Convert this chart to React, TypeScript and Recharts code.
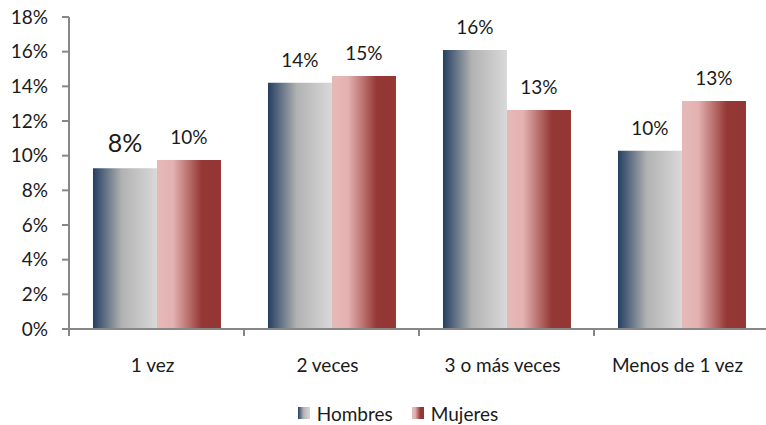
import { BarChart, Bar, XAxis, YAxis, Legend, LabelList } from 'recharts';

const categories = ['1 vez', '2 veces', '3 o más veces', 'Menos de 1 vez'];
const hombres = [9.27, 14.21, 16.1, 10.29];
const mujeres = [9.75, 14.6, 12.64, 13.16];
const hombresLabels = ['8%', '14%', '16%', '10%'];
const mujeresLabels = ['10%', '15%', '13%', '13%'];
const yTicks = [0, 2, 4, 6, 8, 10, 12, 14, 16, 18];

const data = categories.map((name, i) => ({
    name,
    hombres: hombres[i],
    mujeres: mujeres[i],
}));

const FONT = 'Lato, "Open Sans", sans-serif';
const AXIS = '#878787';
const TEXT = '#1a1a1a';

const CategoryTick = ({ x, y, payload, index }: any) => {
    const half = payload?.offset ?? 87.5;
    return (
        <g>
            <line x1={x - half} x2={x - half} y1={y} y2={y + 7} stroke={AXIS} strokeWidth={2} />
            {index === categories.length - 1 && (
                <line x1={x + half} x2={x + half} y1={y} y2={y + 7} stroke={AXIS} strokeWidth={2} />
            )}
            <text x={x - 4} y={y + 43} textAnchor="middle" fill={TEXT} fontSize={19} fontFamily={FONT}>
                {payload.value}
            </text>
        </g>
    );
};

// the first "8%" label is drawn larger in the original
const makeLabel = (labels: string[], bigIndex: number) => (props: any) => {
    const { x, y, width, index } = props;
    return (
        <text
            x={x + width / 2}
            y={y - 16}
            textAnchor="middle"
            fill={TEXT}
            fontSize={index === bigIndex ? 25 : 19}
            fontFamily={FONT}
        >
            {labels[index]}
        </text>
    );
};

const LegendContent = () => (
    <div style={{ height: 24, paddingLeft: 27, display: 'flex', justifyContent: 'center', alignItems: 'center', fontFamily: FONT, fontSize: 19, color: TEXT }}>
        <svg width={12} height={12} style={{ marginRight: 7 }}>
            <rect width={12} height={12} fill="url(#gradHombres)" />
        </svg>
        <span style={{ marginRight: 19 }}>Hombres</span>
        <svg width={12} height={12} style={{ marginRight: 7 }}>
            <rect width={12} height={12} fill="url(#gradMujeres)" />
        </svg>
        <span>Mujeres</span>
    </div>
);

export default function App() {
    return (
        <div style={{ position: 'absolute', left: 0, top: 0, width: 766, height: 425, background: '#fff' }}>
            <BarChart
                width={766}
                height={425}
                data={data}
                margin={{ top: 17, right: -3, left: 0, bottom: 0 }}
                barGap={0}
                barCategoryGap="13.7%"
            >
                <defs>
                    <linearGradient id="gradHombres" x1="0" y1="0" x2="1" y2="0">
                        <stop offset="0%" stopColor="#243f62" />
                        <stop offset="45%" stopColor="#b2b2b2" />
                        <stop offset="100%" stopColor="#d9d9d9" />
                    </linearGradient>
                    <linearGradient id="gradMujeres" x1="0" y1="0" x2="1" y2="0">
                        <stop offset="0%" stopColor="#e6b9b8" />
                        <stop offset="25%" stopColor="#e3b2b1" />
                        <stop offset="70%" stopColor="#953735" />
                        <stop offset="100%" stopColor="#943634" />
                    </linearGradient>
                </defs>
                <XAxis
                    dataKey="name"
                    height={72}
                    axisLine={{ stroke: AXIS, strokeWidth: 2 }}
                    tickLine={false}
                    tickSize={0}
                    tickMargin={0}
                    tick={<CategoryTick />}
                    interval={0}
                />
                <YAxis
                    width={69}
                    domain={[0, 18]}
                    ticks={yTicks}
                    interval={0}
                    tickFormatter={(v: number) => `${v}%`}
                    axisLine={{ stroke: AXIS, strokeWidth: 2 }}
                    tickLine={{ stroke: AXIS, strokeWidth: 2 }}
                    tickSize={7}
                    tickMargin={14}
                    tick={{ fill: TEXT, fontSize: 19, fontFamily: FONT }}
                />
                <Legend verticalAlign="bottom" height={24} content={<LegendContent />} />
                <Bar dataKey="hombres" fill="url(#gradHombres)" isAnimationActive={false}>
                    <LabelList dataKey="hombres" content={makeLabel(hombresLabels, 0)} />
                </Bar>
                <Bar dataKey="mujeres" fill="url(#gradMujeres)" isAnimationActive={false}>
                    <LabelList dataKey="mujeres" content={makeLabel(mujeresLabels, -1)} />
                </Bar>
            </BarChart>
        </div>
    );
}
